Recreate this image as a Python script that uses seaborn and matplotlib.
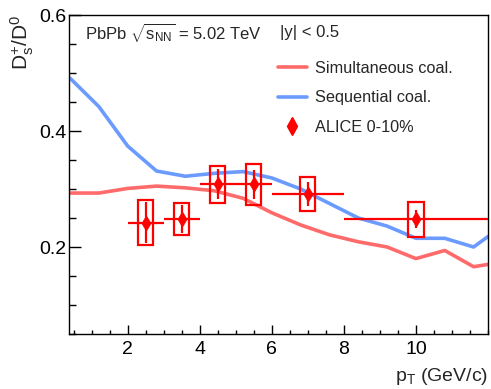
import numpy as np
import pandas as pd
import matplotlib
matplotlib.use("Agg")
import matplotlib.pyplot as plt
from matplotlib.lines import Line2D
from matplotlib.ticker import MultipleLocator
import seaborn as sns

# --- model curves ---
pt_model = [0.4, 1.2, 2.0, 2.8, 3.6, 4.4, 5.2, 6.0, 6.8, 7.6, 8.4, 9.2, 10.0, 10.8, 11.6, 12.0]
sim_coal = [0.293, 0.293, 0.301, 0.305, 0.302, 0.297, 0.284, 0.259, 0.238, 0.221,
            0.209, 0.200, 0.180, 0.194, 0.166, 0.170]
seq_coal = [0.491, 0.442, 0.374, 0.331, 0.322, 0.327, 0.330, 0.319, 0.300, 0.275,
            0.250, 0.236, 0.215, 0.215, 0.200, 0.218]

# --- ALICE 0-10% ---
pt_data = [2.5, 3.5, 4.5, 5.5, 7.0, 10.0]
pt_halfwidth = [0.5, 0.5, 0.5, 0.5, 1.0, 2.0]
ratio = [0.242, 0.248, 0.308, 0.308, 0.291, 0.248]
stat_err = [0.035, 0.024, 0.026, 0.025, 0.021, 0.015]
syst_err = [0.039, 0.028, 0.032, 0.035, 0.029, 0.030]

x_ticks = [2, 4, 6, 8, 10]

sns.set_style("ticks")
plt.rcParams["font.family"] = ["Liberation Sans", "DejaVu Sans"]
plt.rcParams["mathtext.fontset"] = "custom"
plt.rcParams["mathtext.rm"] = "Liberation Sans"
plt.rcParams["mathtext.it"] = "Liberation Sans"

models = pd.DataFrame({
    "pt": pt_model * 2,
    "ratio": sim_coal + seq_coal,
    "model": ["Simultaneous coal."] * len(pt_model) + ["Sequential coal."] * len(pt_model),
})
colors = {"Simultaneous coal.": "#ff6b6b", "Sequential coal.": "#6b9bff"}

fig = plt.figure(figsize=(4.91, 3.89), dpi=100)
ax = fig.add_axes([0.1405, 0.1414, 0.8534, 0.8200])

sns.lineplot(data=models, x="pt", y="ratio", hue="model", palette=colors,
             linewidth=2.6, ax=ax, legend=False, sort=False)

# systematic boxes
ax.bar(pt_data, [2 * s for s in syst_err], width=0.42,
       bottom=[r - s for r, s in zip(ratio, syst_err)],
       fill=False, edgecolor="red", linewidth=1.6, zorder=3)
ax.errorbar(pt_data, ratio, xerr=pt_halfwidth, yerr=stat_err, fmt="none",
            ecolor="red", elinewidth=1.6, capsize=0, zorder=4)
sns.scatterplot(x=pt_data, y=ratio, marker="d", s=60, color="red",
                edgecolor="red", linewidth=0.5, ax=ax, zorder=5)

ax.set_xlim(0.37, 12.0)
ax.set_ylim(0.05, 0.6)
ax.set_xticks(x_ticks)
ax.xaxis.set_minor_locator(MultipleLocator(0.5))
ax.yaxis.set_major_locator(MultipleLocator(0.2))
ax.yaxis.set_minor_locator(MultipleLocator(0.05))
ax.tick_params(axis="both", which="both", direction="in", top=False, right=False,
               labelsize=14, width=1.0, colors="black")
ax.tick_params(axis="x", which="major", length=6.5, pad=5)
ax.tick_params(axis="x", which="minor", length=3.2)
ax.tick_params(axis="y", which="major", length=8.6, pad=2)
ax.tick_params(axis="y", which="minor", length=4.7)
ax.yaxis.set_major_formatter(plt.FuncFormatter(lambda v, p: f"{v:.1f}"))
for sp in ax.spines.values():
    sp.set_visible(True)
    sp.set_linewidth(1.0)
    sp.set_color("black")

ax.set_xlabel(r"p$_{\rm T}$ (GeV/c)", fontsize=14, loc="right", labelpad=6)
ax.set_ylabel(r"D$_{\rm s}^{+}$/D$^{0}$", fontsize=15, loc="top", labelpad=2)

ax.text(0.038, 0.944, r"PbPb $\sqrt{s_{\rm NN}}$ = 5.02 TeV", transform=ax.transAxes,
        fontsize=12, va="center", ha="left")
ax.text(0.503, 0.944, r"|y| < 0.5", transform=ax.transAxes,
        fontsize=12, va="center", ha="left")

handles = [
    Line2D([], [], color=colors["Simultaneous coal."], lw=2.6),
    Line2D([], [], color=colors["Sequential coal."], lw=2.6),
    Line2D([], [], color="red", marker="d", markersize=9, linestyle="none"),
]
labels = ["Simultaneous coal.", "Sequential coal.", "ALICE 0-10%"]
ax.legend(handles, labels, loc="upper left", bbox_to_anchor=(0.498, 0.857),
          frameon=False, fontsize=11.7, handlelength=1.8, handletextpad=0.5,
          labelspacing=0.9, borderpad=0, borderaxespad=0)

fig.savefig("out.png", dpi=100)
